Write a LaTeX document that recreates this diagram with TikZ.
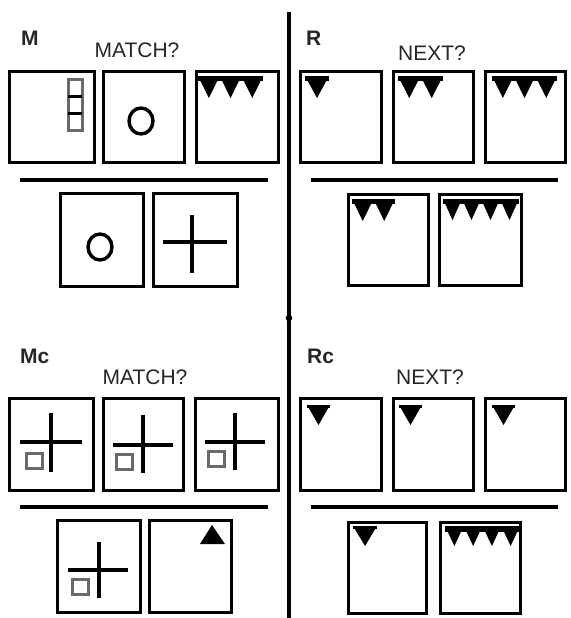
\documentclass[tikz,border=0pt]{standalone}
\usepackage{fontspec}
\setmainfont{Liberation Sans}
\definecolor{txt}{HTML}{262626}
\definecolor{sq}{HTML}{6a6a6a}
\tikzset{
  card/.style={draw=black, line width=3.6pt},
  rule/.style={draw=black, line width=3.4pt},
  glyph/.style={draw=black, line width=3.4pt},
  smallsq/.style={draw=sq, line width=3pt},
  title/.style={anchor=base, inner sep=0pt, text=txt, font=\fontsize{21}{24}\selectfont},
  tag/.style={anchor=base west, inner sep=0pt, text=txt, font=\fontsize{21}{24}\selectfont\bfseries},
}
% triangle strip: x, y(top), n, w, h, bar
\newcommand\tristrip[6]{%
  \fill[black] (#1,#2) rectangle ({#1+#3*#4},{#2+#6});
  \foreach \i in {1,...,#3}{%
    \fill[black] ({#1+(\i-1)*#4},#2) -- ({#1+\i*#4},#2) -- ({#1+(\i-0.5)*#4},{#2+#5}) -- cycle;
  }%
}
\newcommand\crossbox[8]{% hx1 hx2 hy vx vy1 vy2 sqx sqy
  \draw[smallsq] (#7,#8) rectangle ({#7+16},{#8+15});
  \draw[glyph] (#1,#3) -- (#2,#3);
  \draw[glyph] (#4,#5) -- (#4,#6);
}
\begin{document}
\begin{tikzpicture}[x=1pt,y=-1pt]
\useasboundingbox (0,0) rectangle (570,618);
\fill[white] (0,0) rectangle (570,618);

% divider
\coordinate (vtop) at (289,12);
\coordinate (vbot) at (289,618);
\draw[rule] (vtop) -- (vbot);
\fill[black] (289,318) circle (3.3);

% ---------- M ----------
\node[tag] (lM) at (21,46) {M};
\node[title] (tM) at (137,58) {MATCH?};
\draw[card] (9.5,71.5) rectangle (94.5,162.5);
\draw[card] (103.5,71.5) rectangle (184.5,162.5);
\draw[card] (196.5,71.5) rectangle (278.5,162.5);
\coordinate (hMa) at (20,180); \coordinate (hMb) at (268,180);
\draw[rule] (hMa) -- (hMb);
\draw[card] (60.5,193.5) rectangle (143.5,286.5);
\draw[card] (153.5,193.5) rectangle (237.5,286.5);
% stacked squares
\draw[smallsq] (68,79) rectangle (82,130);
\draw[black, line width=3pt] (68,96) -- (82,96);
\draw[black, line width=3pt] (68,113) -- (82,113);
% circles
\draw[glyph] (141,121) ellipse (12 and 13);
\draw[glyph] (100,247) ellipse (12 and 13);
% triangles
\tristrip{198}{76}{3}{21.7}{22}{5}
% cross
\draw[glyph] (163,242) -- (227,242);
\draw[glyph] (192,215) -- (192,273);

% ---------- R ----------
\node[tag] (lR) at (306,46) {R};
\node[title] (tR) at (432,60) {NEXT?};
\draw[card] (300.5,71.5) rectangle (381.5,162.5);
\draw[card] (393.5,71.5) rectangle (473.5,162.5);
\draw[card] (485.5,71.5) rectangle (565.5,162.5);
\coordinate (hRa) at (311,180); \coordinate (hRb) at (558,180);
\draw[rule] (hRa) -- (hRb);
\draw[card] (348.5,194.5) rectangle (428.5,285.5);
\draw[card] (439.5,194.5) rectangle (521.5,285.5);
\tristrip{305}{76}{1}{24}{22}{5}
\tristrip{398}{76}{2}{22.5}{22}{5}
\tristrip{492}{76}{3}{21.7}{22}{5}
\tristrip{352}{199}{2}{21.5}{22}{5}
\tristrip{443}{199}{4}{19}{21}{5}

% ---------- Mc ----------
\node[tag] (lMc) at (20,363) {Mc};
\node[title] (tMc) at (145,384) {MATCH?};
\draw[card] (9.5,398.5) rectangle (93.5,490.5);
\draw[card] (103.5,398.5) rectangle (183.5,490.5);
\draw[card] (195.5,398.5) rectangle (278.5,490.5);
\coordinate (hMca) at (20,507); \coordinate (hMcb) at (268,507);
\draw[rule] (hMca) -- (hMcb);
\draw[card] (57.5,520.5) rectangle (140.5,612.5);
\draw[card] (149.5,520.5) rectangle (231.5,612.5);
\crossbox{20}{82}{442}{51}{413}{472}{26}{453}
\crossbox{113}{173}{445}{143}{415}{473}{116}{454}
\crossbox{205}{265}{442}{235}{413}{470}{208}{451}
\crossbox{68}{128}{570}{99}{542}{598}{72}{579}
\fill[black] (212,525) -- (225,544) -- (200,544) -- cycle;

% ---------- Rc ----------
\node[tag] (lRc) at (307,363) {Rc};
\node[title] (tRc) at (430,384) {NEXT?};
\draw[card] (300.5,398.5) rectangle (381.5,490.5);
\draw[card] (393.5,398.5) rectangle (473.5,490.5);
\draw[card] (485.5,398.5) rectangle (565.5,490.5);
\coordinate (hRca) at (311,507); \coordinate (hRcb) at (558,507);
\draw[rule] (hRca) -- (hRcb);
\draw[card] (348.5,522.5) rectangle (426.5,613.5);
\draw[card] (440.5,522.5) rectangle (520.5,613.5);
\tristrip{307}{405}{1}{23}{20}{3}
\tristrip{399}{405}{1}{23}{20}{3}
\tristrip{492}{405}{1}{23}{20}{3}
\tristrip{353}{526}{1}{24}{20}{3}
\tristrip{445}{526}{4}{18.75}{20}{6}
\end{tikzpicture}
\end{document}
